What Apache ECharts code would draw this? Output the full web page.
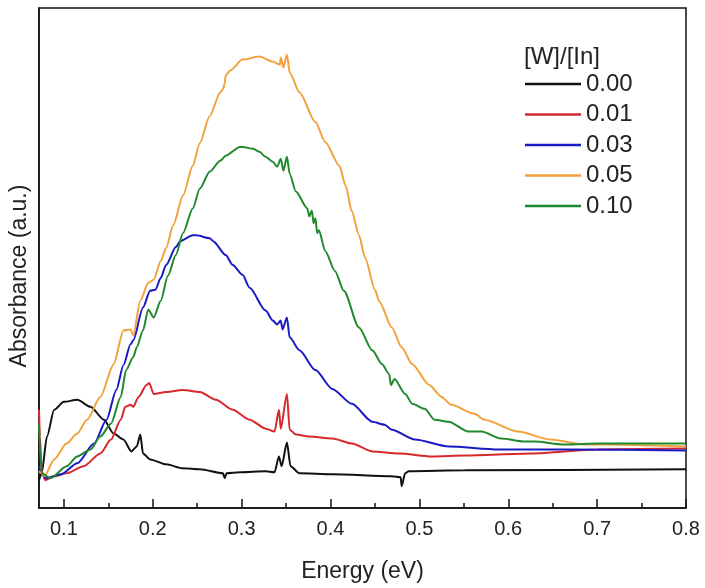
<!DOCTYPE html>
<html>
<head>
<meta charset="utf-8">
<script src="https://cdn.jsdelivr.net/npm/echarts@6/dist/echarts.min.js"></script>
<style>
  html, body { margin: 0; padding: 0; background: #fff; }
  #chart { width: 705px; height: 588px; }
</style>
</head>
<body>
<div id="chart"></div>
<script>
// energy (eV) vs absorbance (a.u.)
const legendTitle = "[W]/[In]";
const seriesNames = ["0.00", "0.01", "0.03", "0.05", "0.10"];
const seriesColors = ["#111111", "#d8282c", "#1a1ac4", "#f2a23c", "#1f8a2c"];
const majorTicks = [0.1, 0.2, 0.3, 0.4, 0.5, 0.6, 0.7, 0.8];
const minorTicks = [0.15, 0.25, 0.35, 0.45, 0.55, 0.65, 0.75];

const w000 = [
  [0.072, 0.28], [0.075, 0.35], [0.081, 0.72], [0.089, 0.99], [0.100, 1.07],
  [0.115, 1.09], [0.130, 1.02], [0.145, 0.89], [0.156, 0.75], [0.167, 0.69],
  [0.176, 0.57], [0.182, 0.62], [0.186, 0.74], [0.189, 0.55], [0.197, 0.49],
  [0.215, 0.44], [0.234, 0.40], [0.253, 0.39], [0.279, 0.35], [0.281, 0.30],
  [0.283, 0.35], [0.298, 0.36], [0.327, 0.37], [0.337, 0.36], [0.342, 0.52],
  [0.345, 0.42], [0.351, 0.66], [0.355, 0.42], [0.365, 0.35], [0.402, 0.34],
  [0.469, 0.32], [0.479, 0.31], [0.480, 0.22], [0.484, 0.35], [0.488, 0.37],
  [0.551, 0.38], [0.800, 0.39]
];
const w001 = [
  [0.072, 0.99], [0.073, 0.72], [0.075, 0.37], [0.079, 0.28], [0.089, 0.32],
  [0.103, 0.35], [0.122, 0.42], [0.141, 0.55], [0.153, 0.69], [0.164, 0.89],
  [0.169, 1.02], [0.175, 1.04], [0.178, 1.02], [0.184, 1.12], [0.193, 1.24],
  [0.196, 1.26], [0.201, 1.15], [0.215, 1.17], [0.234, 1.19], [0.253, 1.17],
  [0.271, 1.09], [0.290, 0.99], [0.309, 0.89], [0.327, 0.80], [0.337, 0.77],
  [0.342, 0.99], [0.344, 0.80], [0.351, 1.15], [0.354, 0.79], [0.361, 0.74],
  [0.376, 0.72], [0.402, 0.70], [0.424, 0.65], [0.447, 0.57], [0.477, 0.55],
  [0.514, 0.52], [0.551, 0.53], [0.626, 0.55], [0.701, 0.59], [0.800, 0.60]
];
const w003 = [
  [0.072, 0.42], [0.075, 0.34], [0.080, 0.30], [0.097, 0.34], [0.115, 0.45],
  [0.134, 0.65], [0.148, 0.89], [0.159, 1.19], [0.167, 1.44], [0.175, 1.65],
  [0.178, 1.69], [0.189, 2.02], [0.197, 2.19], [0.203, 2.20], [0.209, 2.32],
  [0.215, 2.45], [0.226, 2.63], [0.231, 2.69], [0.245, 2.75], [0.249, 2.75],
  [0.264, 2.72], [0.268, 2.69], [0.282, 2.55], [0.290, 2.45], [0.301, 2.35],
  [0.309, 2.22], [0.327, 1.99], [0.335, 1.89], [0.340, 1.85], [0.344, 1.89],
  [0.346, 1.80], [0.351, 1.92], [0.354, 1.72], [0.365, 1.59], [0.383, 1.39],
  [0.402, 1.20], [0.424, 1.05], [0.447, 0.87], [0.461, 0.84], [0.469, 0.79],
  [0.495, 0.69], [0.533, 0.62], [0.589, 0.59], [0.663, 0.59], [0.800, 0.58]
];
const w005 = [
  [0.072, 0.37], [0.075, 0.35], [0.078, 0.32], [0.089, 0.49], [0.103, 0.65],
  [0.115, 0.75], [0.126, 0.89], [0.141, 1.12], [0.156, 1.45], [0.167, 1.79],
  [0.175, 1.80], [0.178, 1.74], [0.186, 2.09], [0.195, 2.27], [0.201, 2.30],
  [0.209, 2.49], [0.215, 2.62], [0.223, 2.85], [0.234, 3.15], [0.245, 3.45],
  [0.253, 3.68], [0.264, 3.95], [0.276, 4.19], [0.279, 4.22], [0.281, 4.28],
  [0.282, 4.36], [0.287, 4.41], [0.301, 4.52], [0.320, 4.55], [0.335, 4.50],
  [0.343, 4.47], [0.344, 4.54], [0.347, 4.44], [0.351, 4.57], [0.354, 4.39],
  [0.365, 4.19], [0.383, 3.89], [0.394, 3.69], [0.410, 3.45], [0.417, 3.25],
  [0.424, 2.99], [0.432, 2.75], [0.439, 2.52], [0.450, 2.20], [0.455, 2.08],
  [0.469, 1.82], [0.480, 1.62], [0.492, 1.45], [0.511, 1.24], [0.525, 1.12],
  [0.536, 1.04], [0.562, 0.95], [0.573, 0.89], [0.611, 0.77], [0.648, 0.69],
  [0.685, 0.64], [0.704, 0.64], [0.800, 0.62]
];
const w010 = [
  [0.072, 0.85], [0.073, 0.62], [0.075, 0.35], [0.085, 0.30], [0.103, 0.42],
  [0.115, 0.52], [0.130, 0.59], [0.141, 0.72], [0.153, 0.85], [0.164, 1.12],
  [0.170, 1.39], [0.178, 1.52], [0.182, 1.62], [0.189, 1.79], [0.195, 2.00],
  [0.201, 1.92], [0.209, 2.09], [0.217, 2.34], [0.226, 2.55], [0.234, 2.77],
  [0.245, 3.02], [0.253, 3.22], [0.264, 3.39], [0.276, 3.50], [0.282, 3.55],
  [0.298, 3.64], [0.301, 3.64], [0.313, 3.62], [0.320, 3.59], [0.327, 3.54],
  [0.335, 3.49], [0.340, 3.44], [0.344, 3.52], [0.347, 3.40], [0.351, 3.54],
  [0.354, 3.37], [0.361, 3.19], [0.374, 3.02], [0.376, 2.94], [0.379, 3.00],
  [0.381, 2.87], [0.383, 2.92], [0.385, 2.77], [0.387, 2.80], [0.394, 2.59],
  [0.405, 2.39], [0.415, 2.19], [0.432, 1.82], [0.447, 1.59], [0.458, 1.45],
  [0.466, 1.35], [0.468, 1.24], [0.472, 1.30], [0.484, 1.15], [0.492, 1.05],
  [0.506, 1.00], [0.517, 0.89], [0.533, 0.87], [0.555, 0.77], [0.570, 0.77],
  [0.592, 0.70], [0.618, 0.67], [0.629, 0.67], [0.663, 0.64], [0.704, 0.65],
  [0.800, 0.65]
];
const allData = [w000, w001, w003, w005, w010];

const FONT = "'Liberation Sans', Arial, sans-serif";
const chart = echarts.init(document.getElementById("chart"));

const option = {
  animation: false,
  backgroundColor: "#fff",
  textStyle: { fontFamily: FONT },
  grid: {
    left: 35, right: 19, top: 8, bottom: 76,
    show: true,
    borderColor: "#111",
    borderWidth: 1.5,
    backgroundColor: "transparent"
  },
  title: {
    text: legendTitle,
    left: 519, top: 40,
    textStyle: { fontFamily: FONT, fontSize: 24, fontWeight: "normal", color: "#222" }
  },
  legend: {
    orient: "vertical",
    left: 520, top: 67,
    icon: "rect",
    itemWidth: 56, itemHeight: 2.5, itemGap: 6.5,
    textStyle: { fontFamily: FONT, fontSize: 24, color: "#222", lineHeight: 24 },
    data: seriesNames
  },
  xAxis: [
    {
      type: "value",
      min: 0.072, max: 0.8,
      name: "Energy (eV)",
      nameLocation: "middle",
      nameGap: 52,
      nameTextStyle: { fontFamily: FONT, fontSize: 23, color: "#222" },
      axisLine: { show: true, lineStyle: { color: "#111", width: 1.5 } },
      axisTick: {
        show: true, inside: true, length: 9,
        customValues: majorTicks,
        lineStyle: { color: "#111", width: 1.5 }
      },
      axisLabel: {
        customValues: majorTicks,
        margin: 11,
        fontFamily: FONT, fontSize: 20, color: "#222",
        formatter: (v) => v.toFixed(1)
      },
      splitLine: { show: false }
    },
    {
      type: "value",
      position: "bottom",
      min: 0.072, max: 0.8,
      axisLine: { show: false },
      axisTick: {
        show: true, inside: true, length: 5,
        customValues: minorTicks,
        lineStyle: { color: "#111", width: 1.5 }
      },
      axisLabel: { show: false },
      splitLine: { show: false }
    }
  ],
  yAxis: {
    type: "value",
    min: 0, max: 5.04,
    name: "Absorbance (a.u.)",
    nameLocation: "middle",
    nameGap: 8,
    nameTextStyle: { fontFamily: FONT, fontSize: 23, color: "#222", padding: [0, 36, 0, 0] },
    axisLine: { show: true, lineStyle: { color: "#111", width: 1.5 } },
    axisTick: { show: false },
    axisLabel: { show: false },
    splitLine: { show: false }
  },
  series: seriesNames.map((name, i) => ({
    name: name,
    type: "line",
    xAxisIndex: 0,
    data: allData[i],
    symbol: "none",
    showSymbol: false,
    smooth: 0.25,
    smoothMonotone: "x",
    color: seriesColors[i],
    lineStyle: { color: seriesColors[i], width: 2 }
  }))
};

chart.setOption(option);
window.addEventListener("resize", chart.resize);
</script>
</body>
</html>
